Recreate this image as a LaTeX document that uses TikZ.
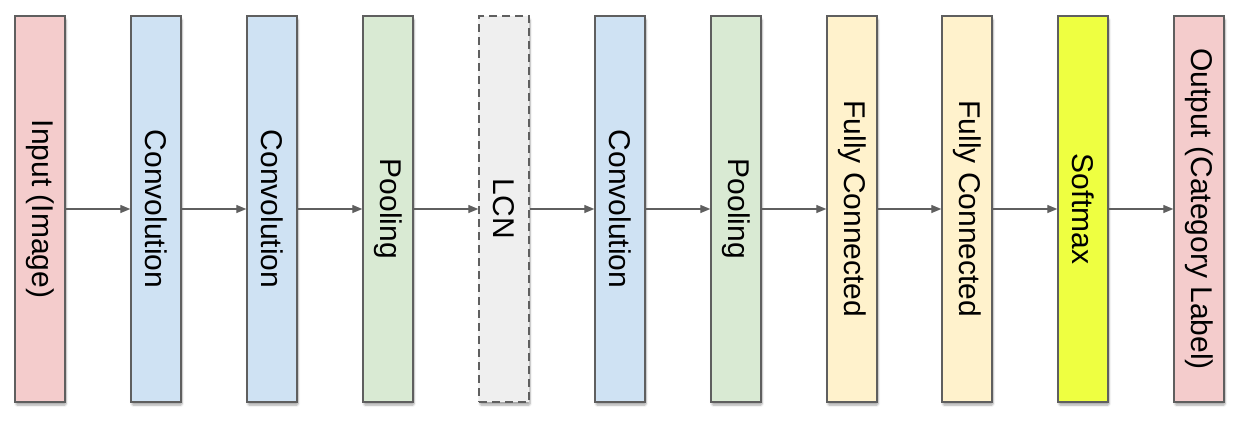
\documentclass[tikz,border=0pt]{standalone}
\usepackage{fontspec}
\setmainfont{Liberation Sans}
\usetikzlibrary{arrows.meta,shadows.blur}
\definecolor{cpink}{HTML}{F4CCCC}
\definecolor{cblue}{HTML}{CFE2F3}
\definecolor{cgreen}{HTML}{D9EAD3}
\definecolor{cgray}{HTML}{EFEFEF}
\definecolor{cyel}{HTML}{FFF2CC}
\definecolor{csoft}{HTML}{EEFF41}
\definecolor{cline}{HTML}{5F5F5F}
\tikzset{
  layerbox/.style={draw=cline, line width=1.4pt, minimum width=50pt, minimum height=386pt, inner sep=0pt,
    blur shadow={shadow xshift=1pt, shadow yshift=-3pt, shadow blur steps=6, shadow blur extra rounding=1pt, shadow opacity=35}},
  layertxt/.style={rotate=-90, font=\fontsize{30}{36}\selectfont, text=black, inner sep=0pt},
  arr/.style={draw=cline, line width=1.3pt, -{Triangle[length=10pt,width=8pt]}}
}
\begin{document}
\begin{tikzpicture}[x=1pt,y=-1pt]
\useasboundingbox (0,0) rectangle (1238,424);
\node[layerbox, fill=cpink] (b1) at (40,209) {};
\node[layerbox, fill=cblue] (b2) at (156,209) {};
\node[layerbox, fill=cblue] (b3) at (272,209) {};
\node[layerbox, fill=cgreen] (b4) at (388,209) {};
\node[layerbox, fill=cgray, dashed, dash pattern=on 8pt off 5pt] (b5) at (504,209) {};
\node[layerbox, fill=cblue] (b6) at (620,209) {};
\node[layerbox, fill=cgreen] (b7) at (736,209) {};
\node[layerbox, fill=cyel] (b8) at (852,209) {};
\node[layerbox, fill=cyel] (b9) at (967,209) {};
\node[layerbox, fill=csoft] (b10) at (1083,209) {};
\node[layerbox, fill=cpink] (b11) at (1199,209) {};
\node[layertxt] (t1) at (b1) {Input (Image)};
\node[layertxt] (t2) at (b2) {Convolution};
\node[layertxt] (t3) at (b3) {Convolution};
\node[layertxt] (t4) at (b4) {Pooling};
\node[layertxt] (t5) at (b5) {LCN};
\node[layertxt] (t6) at (b6) {Convolution};
\node[layertxt] (t7) at (b7) {Pooling};
\node[layertxt] (t8) at (b8) {Fully Connected};
\node[layertxt] (t9) at (b9) {Fully Connected};
\node[layertxt] (t10) at (b10) {Softmax};
\node[layertxt] (t11) at (b11) {Output (Category Label)};
\foreach \a/\b in {b1/b2,b2/b3,b3/b4,b4/b5,b5/b6,b6/b7,b7/b8,b8/b9,b9/b10,b10/b11}
  \draw[arr] (\a.east) -- (\b.west);
\end{tikzpicture}
\end{document}
